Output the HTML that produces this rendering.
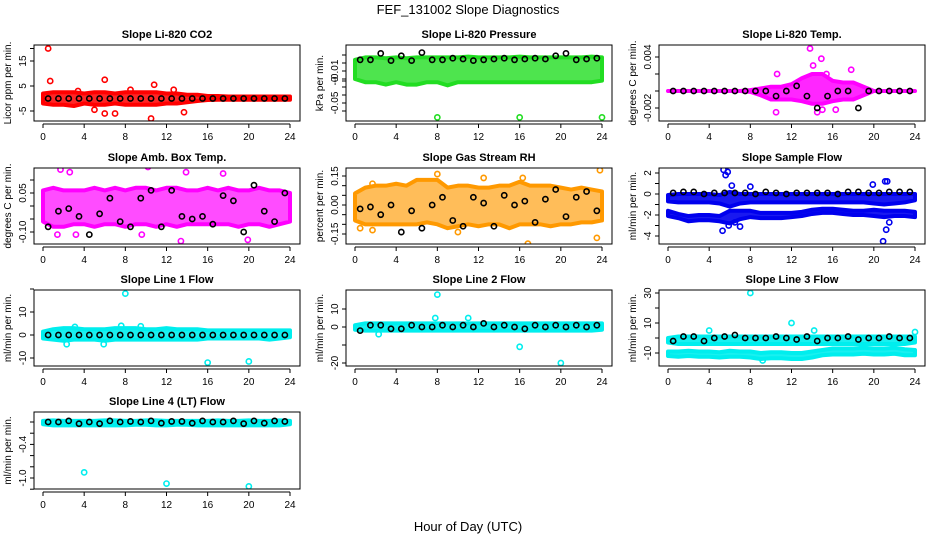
<!DOCTYPE html>
<html><head><meta charset="utf-8">
<style>
body{margin:0;background:#fff}
svg{display:block;font-family:"Liberation Sans",sans-serif}
.t{font-size:11px;font-weight:bold;text-anchor:middle}
.tk{font-size:10px;text-anchor:middle}
</style></head>
<body>
<svg id="c" width="936" height="540" viewBox="0 0 936 540">
<rect width="936" height="540" fill="#fff"/>
<text x="468" y="14" font-size="13" text-anchor="middle">FEF_131002  Slope Diagnostics</text>
<text x="468" y="531" font-size="13" text-anchor="middle">Hour of Day (UTC)</text>
</svg>
<script>
const hours=[0,1,2,3,4,5,6,7,8,9,10,11,12,13,14,15,16,17,18,19,20,21,22,23,24];
const xTicks=[0,4,8,12,16,20,24];
const blackHours=[0.5,1.5,2.5,3.5,4.5,5.5,6.5,7.5,8.5,9.5,10.5,11.5,12.5,13.5,14.5,15.5,16.5,17.5,18.5,19.5,20.5,21.5,22.5,23.5];

const co2Hi=[2,2.5,2.5,2.5,2,2.5,2.5,2,2.5,2.5,2.5,2.5,2,2,1.5,1.5,1,1,0.8,0.8,0.8,0.8,0.8,0.8,0.8];
const co2Lo=[-2,-2.5,-2.5,-3,-2,-2.5,-2.5,-2,-2.5,-2.5,-2.5,-2.5,-2,-2,-1.5,-1,-0.6,-0.5,-0.5,-0.5,-0.5,-0.5,-0.5,-0.5,-0.5];
const co2Out=[[0.5,20],[0.7,7],[6,7.5],[6,-6],[7,-6],[5,-4.5],[10.5,-8],[10.8,5.5],[13.7,-5.5],[12.7,3.5],[3.4,3],[8.5,3.5]];
const co2Black=[0,0,0,0,0,0,0,0,0,0,0,0,0,0,0,0,0,0,0,0,0,0,0,0];

const prHi=[0.004,0.007,0.007,0.006,0.007,0.006,0.007,0.007,0.007,0.007,0.007,0.008,0.007,0.007,0.007,0.007,0.008,0.007,0.007,0.007,0.007,0.007,0.007,0.008,0.007];
const prLo=[-0.02,-0.024,-0.024,-0.027,-0.024,-0.027,-0.027,-0.024,-0.024,-0.028,-0.024,-0.024,-0.024,-0.024,-0.024,-0.024,-0.024,-0.024,-0.024,-0.024,-0.024,-0.024,-0.024,-0.024,-0.022];
const prOut=[[8,-0.068],[16,-0.068],[24,-0.068]];
const prBlack=[0.004,0.004,0.012,0.003,0.009,0.003,0.013,0.004,0.004,0.006,0.005,0.003,0.004,0.005,0.006,0.004,0.005,0.006,0.005,0.009,0.012,0.004,0.005,0.006];

const tmHi=[0,0,0,0,0,0,0,0,0.0001,0.0003,0.0005,0.0005,0.0008,0.0015,0.002,0.002,0.0012,0.001,0.001,0.0005,0,0,0,0,0];
const tmLo=[0,0,0,0,0,0,0,0,-0.0001,-0.0005,-0.001,-0.001,-0.001,-0.0012,-0.0015,-0.0015,-0.0012,-0.001,-0.001,-0.0005,0,0,0,0,0];
const tmOut=[[13.8,0.005],[14.9,0.0038],[14.1,0.003],[10.6,0.002],[17.8,0.0025],[15.4,0.002],[15,-0.0022],[10.5,-0.0025],[16.3,-0.0022],[14.5,-0.0025]];
const tmBlack=[0,0,0,0,0,0,0,0,0,0,-0.0006,0,0.0006,-0.0006,-0.002,-0.0006,0,0,-0.002,0,0,0,0,0];

const abHi=[0.06,0.07,0.06,0.06,0.06,0.07,0.06,0.07,0.06,0.07,0.07,0.06,0.07,0.07,0.06,0.06,0.07,0.06,0.07,0.06,0.06,0.07,0.06,0.06,0.05];
const abLo=[-0.06,-0.08,-0.08,-0.07,-0.07,-0.08,-0.07,-0.07,-0.08,-0.07,-0.07,-0.08,-0.07,-0.08,-0.07,-0.07,-0.07,-0.07,-0.07,-0.08,-0.07,-0.07,-0.08,-0.07,-0.06];
const abOut=[[1.7,0.14],[2.6,0.13],[10.2,0.15],[13.9,0.13],[17.5,0.125],[19.9,-0.13],[13.4,-0.135],[1.4,-0.11],[9.6,-0.11],[3.2,-0.11]];
const abBlack=[-0.08,-0.02,-0.01,-0.04,-0.11,-0.03,0.03,-0.06,-0.08,0.03,0.06,-0.08,0.06,-0.04,-0.05,-0.04,-0.07,0.04,0.02,-0.1,0.08,-0.02,-0.06,0.05];

const rhHi=[0.06,0.09,0.1,0.1,0.11,0.1,0.13,0.13,0.13,0.09,0.1,0.1,0.09,0.09,0.1,0.1,0.12,0.1,0.1,0.1,0.09,0.08,0.09,0.08,0.07];
const rhLo=[-0.08,-0.1,-0.1,-0.1,-0.1,-0.1,-0.1,-0.09,-0.1,-0.12,-0.11,-0.1,-0.11,-0.1,-0.1,-0.12,-0.1,-0.1,-0.1,-0.11,-0.1,-0.1,-0.09,-0.09,-0.08];
const rhOut=[[1.7,0.11],[8,0.16],[12.5,0.14],[16.3,0.14],[23.8,0.18],[16.8,-0.2],[23.5,-0.17],[0.5,-0.12],[1.7,-0.13],[10,-0.14]];
const rhBlack=[-0.02,-0.01,-0.05,0,-0.14,-0.03,-0.12,0,0.04,-0.08,-0.11,0.04,0.01,-0.11,0.05,0,0.02,-0.09,0.03,0.08,-0.06,0.04,0.07,-0.03];

const sfHi=[-0.1,0,0,0,0,-0.1,0.2,0,0,0,0,0,0,0,0,0,0,0,0,0,0,0,0,0,0];
const sfLo=[-0.7,-0.8,-0.8,-0.8,-0.8,-0.9,-1.2,-0.9,-0.8,-0.8,-0.8,-0.8,-0.8,-0.8,-0.8,-0.8,-0.8,-0.8,-0.8,-0.8,-0.9,-1,-0.9,-0.8,-0.6];
const sf2Hi=[-1.6,-1.9,-2.1,-2,-2,-2.1,-1.6,-1.6,-1.6,-1.8,-1.8,-1.8,-1.8,-1.7,-1.5,-1.4,-1.4,-1.5,-1.6,-1.6,-1.5,-1.6,-1.6,-1.6,-1.7];
const sf2Lo=[-2.1,-2.3,-2.6,-2.5,-2.5,-2.6,-2.8,-2.4,-2.2,-2.3,-2.3,-2.3,-2.2,-2.1,-1.9,-1.8,-1.8,-1.9,-2,-2,-2.1,-2.2,-2.1,-2.1,-2.2];
const sfOut=[[5.4,2.3],[5.6,1.8],[5.8,2.1],[6.2,0.8],[8,0.7],[5.3,-3.5],[5.9,-3],[7,-3.1],[19.9,0.9],[21.1,1.2],[21.3,1.2],[20.9,-4.5],[21.2,-3.4],[21.5,-2.7],[6.5,-2.7]];
const sfBlack=[0.1,0.2,0.2,0,0.1,0.1,0.1,0.1,0,0.2,0.1,0,0.1,0.1,0.1,0.1,0,0.2,0.2,0.1,0.1,0.2,0.2,0.2];

const l1Hi=[1.5,2.5,3,3,2.5,2.5,2.5,3,3,3,2.5,2.5,3,2.5,2.5,2.5,2,2,2,2,2,2,2,2,2];
const l1Lo=[-1.5,-2,-2.5,-2,-2,-2,-2.5,-2,-2,-2,-2,-2,-2,-2,-2,-2,-1.5,-1.5,-1.5,-1.5,-1.5,-1.5,-2,-1.5,-1];
const l1Out=[[8,18],[16,-12],[20,-11.5],[2.3,-4],[5.9,-4],[3.1,3.5],[7.6,4],[9.5,3.8]];
const l1Black=[0,0,0,0,0,0,0,0,0,0,0,0,0,0,0,0,0,0,0,0,0,0,0,0];

const l2Hi=[1,2,2,2,2,2,2,2,2,2,2,2,2,2,2,2,2,2,2,2,2,2,2,2,2];
const l2Lo=[-1.5,-2,-2,-2,-2,-2,-2,-2,-2,-2,-2,-2,-2,-2,-2,-2,-2,-2,-2,-2,-2,-2,-2,-2,-1.5];
const l2Out=[[8,18],[7.8,5],[16,-11],[20,-20],[2.3,-4],[11,5]];
const l2Black=[-2,1,1,-1,-1,1,0,0,1,0,1,0,2,0,1,0,-1,1,0,1,0,1,0,1];

const l3Hi=[0,1,1,1,1,1,1,1,1,1,1,1,1,1,1,1,1,1,1,1,1,1,1,1,1];
const l3Lo=[-3,-4,-4,-4,-4,-4,-4,-4,-4,-4,-4,-4,-4,-4,-4,-4,-4,-4,-4,-4,-4,-4,-4,-4,-3];
const l3aHi=[-9,-9,-8.5,-9,-9,-9.5,-8.5,-9,-9,-10,-9.5,-9.5,-10,-10,-9,-8,-7,-7,-7,-6.5,-7,-7,-6.5,-7.5,-8];
const l3aLo=[-12,-12.5,-12,-12.5,-12.5,-13,-12.5,-12.5,-13,-14,-13.5,-13.5,-14,-14,-13,-11.5,-11,-11,-11,-10.5,-11,-11,-10.5,-11.5,-11.5];
const l3Out=[[8,30],[12,10],[14.2,5],[4,5],[24,4],[9.2,-15]];
const l3Black=[-2,1,1,-2,0,1,2,0,0,0,1,0,-1,1,-2,0,0,1,-1,0,0,1,0,0];

const l4Hi=[0.02,0.03,0.02,0.02,0.02,0.02,0.03,0.03,0.02,0.02,0.03,0.03,0.02,0.02,0.02,0.02,0.02,0.03,0.02,0.02,0.03,0.02,0.02,0.03,0.02];
const l4Lo=[-0.04,-0.06,-0.06,-0.06,-0.06,-0.06,-0.06,-0.06,-0.06,-0.05,-0.05,-0.06,-0.06,-0.05,-0.05,-0.06,-0.06,-0.06,-0.06,-0.06,-0.06,-0.06,-0.06,-0.06,-0.04];
const l4Out=[[4,-0.9],[12,-1.1],[20,-1.15]];
const l4Black=[0,0,0.02,-0.03,0,-0.03,0.02,0,0.01,0,0.02,-0.02,0.01,0.01,-0.02,0.02,0,0,0.02,-0.03,0.02,-0.02,0.02,0.01];

const panels=[
 {name:'co2',title:'Slope Li-820 CO2',ylab:'Licor ppm per min.',col:0,row:0,color:'#ff0000',op:0.85,y:[[-5,111],[15,61]],ticks:[-5,5,15],tl:['-5','5','15'],minor:[20],bands:[[co2Hi,co2Lo]],out:co2Out,black:co2Black},
 {name:'pressure',title:'Slope Li-820 Pressure',ylab:'kPa per min.',col:1,row:0,color:'#22dd22',op:0.8,y:[[0,63],[-0.05,103]],ticks:[-0.01,-0.0225,-0.05],tl:['-0.01','-0','-0.05'],minor:[0.01,0,-0.02,-0.03,-0.04,-0.06],bands:[[prHi,prLo]],out:prOut,black:prBlack},
 {name:'temp',title:'Slope Li-820 Temp.',ylab:'degrees C per min.',col:2,row:0,color:'#ff00ff',op:0.85,y:[[0,91],[0.004,57]],ticks:[0.004,-0.002],tl:['0.004','-0.002'],minor:[0.002,0],bands:[[tmHi,tmLo]],out:tmOut,black:tmBlack},
 {name:'ambbox',title:'Slope Amb. Box Temp.',ylab:'degrees C per min.',col:0,row:1,color:'#ff00ff',op:0.7,y:[[0,206],[0.05,193]],ticks:[0.05,-0.1],tl:['0.05','-0.10'],minor:[0.1,0,-0.05],bands:[[abHi,abLo]],out:abOut,black:abBlack},
 {name:'rh',title:'Slope Gas Stream RH',ylab:'percent per min.',col:1,row:1,color:'#ff9900',op:0.65,y:[[0,205],[0.15,176]],ticks:[0.15,0,-0.15],tl:['0.15','0.00','-0.15'],minor:[0.1,0.05,-0.05,-0.1],bands:[[rhHi,rhLo]],out:rhOut,black:rhBlack},
 {name:'sampleflow',title:'Slope Sample Flow',ylab:'ml/min per min.',col:2,row:1,color:'#0000ee',op:0.9,y:[[0,194],[2,173]],ticks:[2,0,-2,-4],tl:['2','0','-2','-4'],minor:[1,-1,-3],bands:[[sfHi,sfLo],[sf2Hi,sf2Lo]],out:sfOut,black:sfBlack},
 {name:'line1',title:'Slope Line 1 Flow',ylab:'ml/min per min.',col:0,row:2,color:'#00eeee',op:0.9,y:[[0,335],[10,312]],ticks:[10,0,-10],tl:['10','0','-10'],minor:[20],bands:[[l1Hi,l1Lo]],out:l1Out,black:l1Black},
 {name:'line2',title:'Slope Line 2 Flow',ylab:'ml/min per min.',col:1,row:2,color:'#00eeee',op:0.9,y:[[0,327],[10,309]],ticks:[10,0,-20],tl:['10','0','-20'],minor:[-10],bands:[[l2Hi,l2Lo]],out:l2Out,black:l2Black},
 {name:'line3',title:'Slope Line 3 Flow',ylab:'ml/min per min.',col:2,row:2,color:'#00eeee',op:0.9,y:[[10,323],[30,293]],ticks:[30,10,-10],tl:['30','10','-10'],minor:[20,0],bands:[[l3Hi,l3Lo],[l3aHi,l3aLo]],out:l3Out,black:l3Black},
 {name:'line4',title:'Slope Line 4 (LT) Flow',ylab:'ml/min per min.',col:0,row:3,color:'#00eeee',op:0.9,y:[[0,422],[-1,478]],ticks:[-0.4,-1.0],tl:['-0.4','-1.0'],minor:[0,-0.2,-0.6,-0.8,-1.2],bands:[[l4Hi,l4Lo]],out:l4Out,black:l4Black}
];
const colX=[34,346,659], rowY=[[45,121],[168,244],[290,366],[412,489]], W=266;
const svg=document.getElementById('c'), NS='http://www.w3.org/2000/svg';
function mk(tag,attrs,parent){const e=document.createElementNS(NS,tag);for(const k in attrs)e.setAttribute(k,attrs[k]);(parent||svg).appendChild(e);return e;}

panels.forEach(p=>{
  const x0=colX[p.col], y0=rowY[p.row][0], y1=rowY[p.row][1], x1=x0+W;
  const sx=t=>x0+9+t*(247/24);
  const [[v0,p0],[v1,p1]]=p.y;
  const sy=v=>p0+(v-v0)*(p1-p0)/(v1-v0);
  const g=mk('g',{});
  
  
  const cp=mk('clipPath',{id:'cp-'+p.name},g);
  mk('rect',{x:x0,y:y0,width:W,height:y1-y0},cp);
  const data=mk('g',{'clip-path':'url(#cp-'+p.name+')'},g);
  
  
  p.bands.forEach(b=>{
    const [hi,lo]=b;
    let d='M'+hours.map((h,i)=>sx(h)+','+sy(hi[i])).join('L');
    d+='L'+hours.slice().reverse().map((h,j)=>sx(h)+','+sy(lo[hours.length-1-j])).join('L')+'Z';
    const band=mk('path',{d:d,fill:p.color,'fill-opacity':p.op,stroke:p.color,'stroke-width':4,'stroke-linejoin':'round'},data);
    
    
  });
  p.out.forEach(o=>{
    const c=mk('circle',{cx:sx(o[0]),cy:sy(o[1]),r:2.6,fill:'none',stroke:p.color,'stroke-width':1.6},data);
    
    
  });
  p.black.forEach((v,i)=>{
    const c=mk('circle',{cx:sx(blackHours[i]),cy:sy(v),r:2.6,fill:'none',stroke:'#000','stroke-width':1.6},data);
    
    
  });
  const box=mk('rect',{x:x0,y:y0,width:W,height:y1-y0,fill:'none',stroke:'#000','stroke-width':1},g);
  
  
  const xa=mk('g',{},g);
  
  
  mk('line',{x1:sx(0),x2:sx(24),y1:y1+3,y2:y1+3,stroke:'#000'},xa);
  xTicks.forEach(t=>{
    mk('line',{x1:sx(t),x2:sx(t),y1:y1+3,y2:y1+7,stroke:'#000'},xa);
    const tx=mk('text',{x:sx(t),y:y1+19,class:'tk'},xa);tx.textContent=t;
  });
  const ya=mk('g',{},g);
  
  
  p.minor.concat(p.ticks).forEach(v=>{
    const yy=sy(v); if(yy<y0-2||yy>y1+2) return;
    mk('line',{x1:x0-4,x2:x0,y1:yy,y2:yy,stroke:'#000'},ya);
  });
  p.ticks.forEach((v,i)=>{
    const yy=sy(v);
    const tx=mk('text',{x:x0-8,y:yy,class:'tk',transform:'rotate(-90 '+(x0-8)+' '+yy+')'},ya);
    tx.textContent=p.tl[i];
  });
  const yl=mk('text',{x:x0-23,y:(y0+y1)/2,'font-size':10,'text-anchor':'middle',transform:'rotate(-90 '+(x0-23)+' '+((y0+y1)/2)+')'},g);
  yl.textContent=p.ylab;
  
  
  const tt=mk('text',{x:x0+W/2,y:y0-7,class:'t'},g);
  tt.textContent=p.title;
  
  
});
</script>
</body></html>
